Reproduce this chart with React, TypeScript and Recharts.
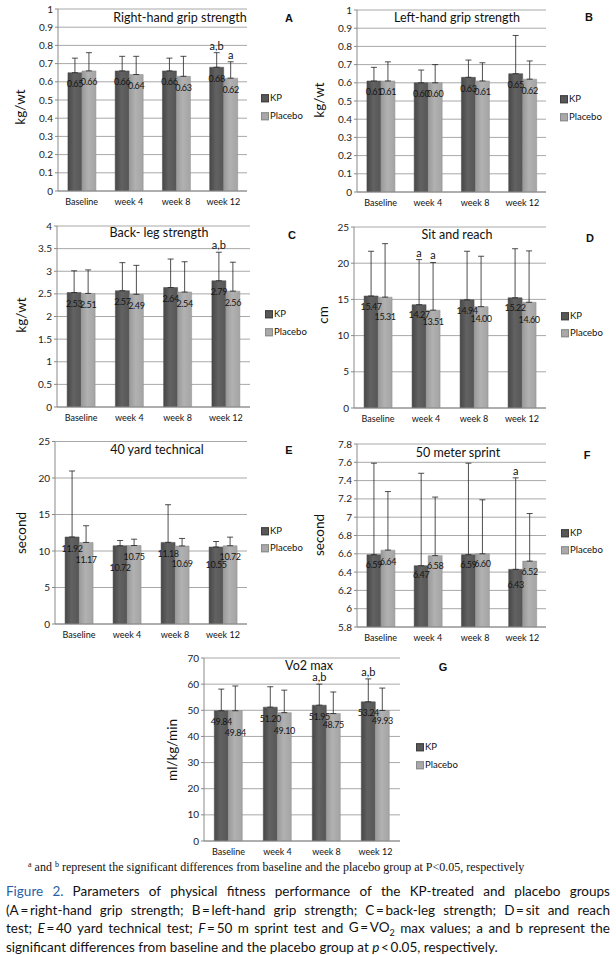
import React from 'react';
import { BarChart, Bar, XAxis, YAxis, CartesianGrid, ErrorBar, LabelList } from 'recharts';

const categories = ['Baseline', 'week 4', 'week 8', 'week 12'];

// A — right-hand grip strength
const rightGripKP = [0.65, 0.66, 0.66, 0.68];
const rightGripKPSd = [0.08, 0.08, 0.07, 0.08];
const rightGripPl = [0.66, 0.64, 0.63, 0.62];
const rightGripPlSd = [0.1, 0.1, 0.11, 0.09];
const rightGripKPSig = ['', '', '', 'a,b'];
const rightGripPlSig = ['', '', '', 'a'];

// B — left-hand grip strength
const leftGripKP = [0.61, 0.6, 0.63, 0.65];
const leftGripKPSd = [0.075, 0.07, 0.095, 0.21];
const leftGripPl = [0.61, 0.6, 0.61, 0.62];
const leftGripPlSd = [0.105, 0.1, 0.1, 0.1];

const gripTicks = [0, 0.1, 0.2, 0.3, 0.4, 0.5, 0.6, 0.7, 0.8, 0.9, 1];

// C — back-leg strength
const backLegKP = [2.53, 2.57, 2.64, 2.79];
const backLegKPSd = [0.48, 0.62, 0.63, 0.63];
const backLegPl = [2.51, 2.49, 2.54, 2.56];
const backLegPlSd = [0.52, 0.64, 0.67, 0.64];
const backLegKPSig = ['', '', '', 'a,b'];
const backLegTicks = [0, 0.5, 1, 1.5, 2, 2.5, 3, 3.5, 4];

// D — sit and reach
const sitReachKP = [15.47, 14.27, 14.94, 15.22];
const sitReachKPSd = [6.18, 6.23, 6.71, 6.78];
const sitReachPl = [15.31, 13.51, 14.0, 14.6];
const sitReachPlSd = [7.39, 6.59, 6.96, 7.1];
const sitReachKPSig = ['', 'a', '', ''];
const sitReachPlSig = ['', 'a', '', ''];
const sitReachTicks = [0, 5, 10, 15, 20, 25];

// E — 40 yard technical
const yardKP = [11.92, 10.72, 11.18, 10.55];
const yardKPSd = [9.04, 0.72, 5.16, 0.75];
const yardPl = [11.17, 10.75, 10.69, 10.72];
const yardPlSd = [2.29, 0.87, 1.03, 1.18];
const yardTicks = [0, 5, 10, 15, 20, 25];

// F — 50 meter sprint
const sprintKP = [6.59, 6.47, 6.59, 6.43];
const sprintKPSd = [1.0, 1.01, 1.0, 1.0];
const sprintPl = [6.64, 6.58, 6.6, 6.52];
const sprintPlSd = [0.64, 0.64, 0.59, 0.52];
const sprintKPSig = ['', '', '', 'a'];
const sprintTicks = [5.8, 6, 6.2, 6.4, 6.6, 6.8, 7, 7.2, 7.4, 7.6, 7.8];

// G — VO2 max
const vo2KP = [49.84, 51.2, 51.95, 53.24];
const vo2KPSd = [8.26, 7.8, 8.05, 8.76];
const vo2Pl = [49.84, 49.1, 48.75, 49.93];
const vo2PlSd = [9.46, 8.6, 8.25, 8.57];
const vo2KPSig = ['', '', 'a,b', 'a,b'];
const vo2Ticks = [0, 10, 20, 30, 40, 50, 60, 70];

const SANS = 'Lato, "Liberation Sans", Arial, sans-serif';
const KP_COLOR = '#585858';
const PL_COLOR = '#a9a9a9';

type Box = { x: number; y: number; w: number; h: number };
type Plot = { x0: number; x1: number; y0: number; y1: number };

type PanelProps = {
  id: string;
  box: Box;
  plot: Plot;
  kp: number[];
  kpSd: number[];
  pl: number[];
  plSd: number[];
  kpSig?: string[];
  plSig?: string[];
  ticks: number[];
  kpDy?: number[];
  plDy?: number[];
  title: string;
  titlePos: [number, number];
  letter: string;
  letterPos: [number, number];
  yLabel: string;
  yLabelPos: [number, number];
  legendPos: [number, number, number];
};

const XAXIS_H = 20;
const YAXIS_W = 30;

function geom(props: any) {
  const vb = props.viewBox || {};
  const x = props.x ?? vb.x;
  const y = props.y ?? vb.y;
  const width = props.width ?? vb.width;
  const height = props.height ?? vb.height;
  return { x: Number(x), y: Number(y), width: Number(width), height: Number(height) };
}

function valueLabel(dys: number[] | undefined) {
  return (props: any) => {
    const { x, y, width } = geom(props);
    const idx = props.index ?? 0;
    const dy = dys ? dys[idx] : 11;
    return (
      <text
        x={x + width / 2}
        y={y + dy}
        textAnchor="middle"
        dominantBaseline="central"
        fontSize={9}
        fontFamily={SANS}
        fill="#151515"
        letterSpacing={-0.4}
      >
        {Number(props.value).toFixed(2)}
      </text>
    );
  };
}

function sigLabel(sig: string[], vals: number[], sds: number[], domainMin: number) {
  return (props: any) => {
    const { x, y, width, height } = geom(props);
    const idx = props.index ?? 0;
    const s = sig[idx];
    if (!s) return null;
    const pxPerUnit = height / (vals[idx] - domainMin);
    const errTop = y - sds[idx] * pxPerUnit;
    return (
      <text x={x + width / 2} y={errTop - 3} textAnchor="middle" fontSize={11} fontFamily={SANS} fill="#111">
        {s}
      </text>
    );
  };
}

function Panel(p: PanelProps) {
  const { box, plot } = p;
  const margin = {
    top: plot.y0 - box.y,
    right: box.x + box.w - plot.x1,
    bottom: box.y + box.h - plot.y1 - XAXIS_H,
    left: plot.x0 - box.x - YAXIS_W,
  };
  const domain: [number, number] = [p.ticks[0], p.ticks[p.ticks.length - 1]];
  const data = categories.map((c, i) => ({
    cat: c,
    kp: p.kp[i],
    kpErr: [0, p.kpSd[i]],
    pl: p.pl[i],
    plErr: [0, p.plSd[i]],
  }));
  const kpGrad = `kpGrad-${p.id}`;
  const plGrad = `plGrad-${p.id}`;
  return (
    <>
      <div style={{ position: 'absolute', left: box.x, top: box.y }}>
        <BarChart width={box.w} height={box.h} data={data} margin={margin} barCategoryGap="21%" barGap={0}>
          <defs>
            <linearGradient id={kpGrad} x1="0" y1="0" x2="1" y2="0">
              <stop offset="0%" stopColor="#474747" />
              <stop offset="45%" stopColor="#626262" />
              <stop offset="100%" stopColor="#565656" />
            </linearGradient>
            <linearGradient id={plGrad} x1="0" y1="0" x2="1" y2="0">
              <stop offset="0%" stopColor="#999999" />
              <stop offset="45%" stopColor="#b1b1b1" />
              <stop offset="100%" stopColor="#a4a4a4" />
            </linearGradient>
          </defs>
          <CartesianGrid vertical={false} stroke="#a8a8a8" />
          <XAxis
            dataKey="cat"
            interval={0}
            height={XAXIS_H}
            tickLine={false}
            axisLine={{ stroke: '#8a8a8a' }}
            tick={{ fontSize: 9, fill: '#111', fontFamily: SANS }}
          />
          <YAxis
            width={YAXIS_W}
            domain={domain}
            ticks={p.ticks}
            interval={0}
            allowDataOverflow
            tickSize={3}
            tickMargin={2}
            axisLine={{ stroke: '#8a8a8a' }}
            tickLine={{ stroke: '#8a8a8a' }}
            tick={{ fontSize: 10, fill: '#222', fontFamily: SANS }}
          />
          <Bar dataKey="kp" fill={`url(#${kpGrad})`} stroke="#4a4a4a" strokeWidth={0.5} isAnimationActive={false}>
            <ErrorBar dataKey="kpErr" direction="y" width={3} stroke="#222" strokeWidth={0.8} />
            <LabelList dataKey="kp" content={valueLabel(p.kpDy)} />
            {p.kpSig ? <LabelList dataKey="kp" content={sigLabel(p.kpSig, p.kp, p.kpSd, domain[0])} /> : null}
          </Bar>
          <Bar dataKey="pl" fill={`url(#${plGrad})`} stroke="#8c8c8c" strokeWidth={0.5} isAnimationActive={false}>
            <ErrorBar dataKey="plErr" direction="y" width={3} stroke="#222" strokeWidth={0.8} />
            <LabelList dataKey="pl" content={valueLabel(p.plDy)} />
            {p.plSig ? <LabelList dataKey="pl" content={sigLabel(p.plSig, p.pl, p.plSd, domain[0])} /> : null}
          </Bar>
        </BarChart>
      </div>
      <div
        style={{
          position: 'absolute',
          left: p.titlePos[0],
          top: p.titlePos[1],
          transform: 'translate(-50%, -50%)',
          fontFamily: SANS,
          fontSize: 12.5,
          color: '#111',
          whiteSpace: 'nowrap',
          lineHeight: 1,
        }}
      >
        {p.title}
      </div>
      <div
        style={{
          position: 'absolute',
          left: p.letterPos[0],
          top: p.letterPos[1],
          transform: 'translate(-50%, -50%)',
          fontFamily: '"Liberation Sans", Arial, sans-serif',
          fontWeight: 700,
          fontSize: 11,
          color: '#111',
          lineHeight: 1,
        }}
      >
        {p.letter}
      </div>
      <div
        style={{
          position: 'absolute',
          left: p.yLabelPos[0],
          top: p.yLabelPos[1],
          transform: 'translate(-50%, -50%) rotate(-90deg)',
          fontFamily: SANS,
          fontSize: 13.5,
          color: '#111',
          whiteSpace: 'nowrap',
          lineHeight: 1,
        }}
      >
        {p.yLabel}
      </div>
      {[
        { name: 'KP', color: KP_COLOR, border: '#3e3e3e', y: p.legendPos[1] },
        { name: 'Placebo', color: PL_COLOR, border: '#8a8a8a', y: p.legendPos[2] },
      ].map((it) => (
        <div
          key={it.name}
          style={{
            position: 'absolute',
            left: p.legendPos[0],
            top: it.y,
            transform: 'translateY(-50%)',
            display: 'flex',
            alignItems: 'center',
            fontFamily: SANS,
            fontSize: 9.5,
            color: '#111',
            lineHeight: 1,
            whiteSpace: 'nowrap',
          }}
        >
          <span
            style={{
              display: 'inline-block',
              width: 6,
              height: 6,
              background: it.color,
              border: `0.5px solid ${it.border}`,
              marginRight: 1,
            }}
          />
          {it.name}
        </div>
      ))}
    </>
  );
}

const captionLines: React.ReactNode[][] = [
  [
    <span style={{ color: '#2a5fa8' }}>Figure</span>,
    <span style={{ color: '#2a5fa8' }}>2.</span>,
    'Parameters', 'of', 'physical', 'fitness', 'performance', 'of', 'the', 'KP-treated', 'and', 'placebo', 'groups',
  ],
  [
    '(A\u2009=\u2009right-hand', 'grip', 'strength;', 'B\u2009=\u2009left-hand', 'grip', 'strength;',
    'C\u2009=\u2009back-leg', 'strength;', 'D\u2009=\u2009sit', 'and', 'reach',
  ],
  [
    'test;', <span><i>E</i>{'\u2009=\u200940'}</span>, 'yard', 'technical', 'test;', <span><i>F</i>{'\u2009=\u200950'}</span>, 'm', 'sprint', 'test', 'and',
    <span>G{'\u2009=\u2009'}VO<sub style={{ fontSize: 9 }}>2</sub></span>, 'max', 'values;', 'a', 'and', 'b', 'represent', 'the',
  ],
];

export default function App() {
  return (
    <div style={{ position: 'absolute', left: 0, top: 0, width: 616, height: 955, background: '#fff', overflow: 'hidden' }}>
      <Panel
        id="A"
        box={{ x: 0, y: 0, w: 305, h: 215 }}
        plot={{ x0: 58, x1: 247, y0: 9, y1: 191 }}
        kp={rightGripKP}
        kpSd={rightGripKPSd}
        pl={rightGripPl}
        plSd={rightGripPlSd}
        kpSig={rightGripKPSig}
        plSig={rightGripPlSig}
        ticks={gripTicks}
        title="Right-hand grip strength"
        titlePos={[180, 18]}
        letter="A"
        letterPos={[289, 18]}
        yLabel="kg/wt"
        yLabelPos={[21, 107]}
        legendPos={[261, 98, 116]}
      />
      <Panel
        id="B"
        box={{ x: 305, y: 0, w: 311, h: 215 }}
        plot={{ x0: 357, x1: 546, y0: 10, y1: 192 }}
        kp={leftGripKP}
        kpSd={leftGripKPSd}
        pl={leftGripPl}
        plSd={leftGripPlSd}
        ticks={gripTicks}
        title="Left-hand grip strength"
        titlePos={[457, 18]}
        letter="B"
        letterPos={[589, 17]}
        yLabel="kg/wt"
        yLabelPos={[320, 100]}
        legendPos={[560, 99, 117]}
      />
      <Panel
        id="C"
        box={{ x: 0, y: 215, w: 305, h: 220 }}
        plot={{ x0: 57, x1: 250, y0: 226, y1: 407 }}
        kp={backLegKP}
        kpSd={backLegKPSd}
        pl={backLegPl}
        plSd={backLegPlSd}
        kpSig={backLegKPSig}
        ticks={backLegTicks}
        title="Back- leg strength"
        titlePos={[159, 233]}
        letter="C"
        letterPos={[292, 235]}
        yLabel="kg/wt"
        yLabelPos={[22, 315]}
        legendPos={[265, 314, 332]}
      />
      <Panel
        id="D"
        box={{ x: 305, y: 215, w: 311, h: 220 }}
        plot={{ x0: 354, x1: 546, y0: 227, y1: 408 }}
        kp={sitReachKP}
        kpSd={sitReachKPSd}
        pl={sitReachPl}
        plSd={sitReachPlSd}
        kpSig={sitReachKPSig}
        plSig={sitReachPlSig}
        ticks={sitReachTicks}
        kpDy={[11, 10, 11, 10]}
        plDy={[19, 11, 11.5, 17]}
        title="Sit and reach"
        titlePos={[457, 235]}
        letter="D"
        letterPos={[590, 238]}
        yLabel="cm"
        yLabelPos={[324, 315]}
        legendPos={[561, 316, 333]}
      />
      <Panel
        id="E"
        box={{ x: 0, y: 430, w: 305, h: 215 }}
        plot={{ x0: 55, x1: 247, y0: 441.5, y1: 624 }}
        kp={yardKP}
        kpSd={yardKPSd}
        pl={yardPl}
        plSd={yardPlSd}
        ticks={yardTicks}
        kpDy={[12, 22, 11, 18]}
        plDy={[17, 10.5, 18, 11]}
        title="40 yard technical"
        titlePos={[157, 450]}
        letter="E"
        letterPos={[289, 450]}
        yLabel="second"
        yLabelPos={[22, 533]}
        legendPos={[261, 531, 548]}
      />
      <Panel
        id="F"
        box={{ x: 305, y: 435, w: 311, h: 215 }}
        plot={{ x0: 357, x1: 546, y0: 444, y1: 627 }}
        kp={sprintKP}
        kpSd={sprintKPSd}
        pl={sprintPl}
        plSd={sprintPlSd}
        kpSig={sprintKPSig}
        ticks={sprintTicks}
        kpDy={[10, 8.7, 10, 15]}
        plDy={[11, 9.5, 10, 10.5]}
        title="50 meter sprint"
        titlePos={[458, 453]}
        letter="F"
        letterPos={[587, 455]}
        yLabel="second"
        yLabelPos={[320, 535]}
        legendPos={[561, 533, 550]}
      />
      <Panel
        id="G"
        box={{ x: 150, y: 645, w: 320, h: 220 }}
        plot={{ x0: 204, x1: 400, y0: 658, y1: 841 }}
        kp={vo2KP}
        kpSd={vo2KPSd}
        pl={vo2Pl}
        plSd={vo2PlSd}
        kpSig={vo2KPSig}
        ticks={vo2Ticks}
        kpDy={[11, 11, 11.5, 11]}
        plDy={[22, 18, 10.7, 10.5]}
        title="Vo2 max"
        titlePos={[309, 666]}
        letter="G"
        letterPos={[443, 667]}
        yLabel="ml/kg/min"
        yLabelPos={[173, 750]}
        legendPos={[416, 747, 765]}
      />
      <div
        style={{
          position: 'absolute',
          left: 28,
          top: 857,
          fontFamily: '"Liberation Serif", "Times New Roman", serif',
          fontSize: 12,
          lineHeight: '16px',
          color: '#111',
          whiteSpace: 'nowrap',
        }}
      >
        <span style={{ fontSize: 8, verticalAlign: '4px' }}>a</span> and{' '}
        <span style={{ fontSize: 8, verticalAlign: '4px' }}>b</span> represent the significant differences from baseline and the
        placebo group at P&lt;0.05, respectively
      </div>
      {captionLines.map((words, li) => (
        <div
          key={li}
          style={{
            position: 'absolute',
            left: 6,
            top: 882 + li * 18.5,
            width: 604,
            height: 18,
            display: 'flex',
            justifyContent: 'space-between',
            alignItems: 'center',
            fontFamily: SANS,
            fontSize: 13.5,
            color: '#111',
            whiteSpace: 'nowrap',
          }}
        >
          {words.map((w, wi) => (
            <span key={wi}>{w}</span>
          ))}
        </div>
      ))}
      <div
        style={{
          position: 'absolute',
          left: 6,
          top: 882 + 3 * 18.5,
          height: 18,
          display: 'flex',
          alignItems: 'center',
          fontFamily: SANS,
          fontSize: 13.5,
          color: '#111',
          whiteSpace: 'nowrap',
        }}
      >
        <span>
          significant differences from baseline and the placebo group at <i>p</i>
          {'\u2009<\u20090.05, respectively.'}
        </span>
      </div>
    </div>
  );
}
